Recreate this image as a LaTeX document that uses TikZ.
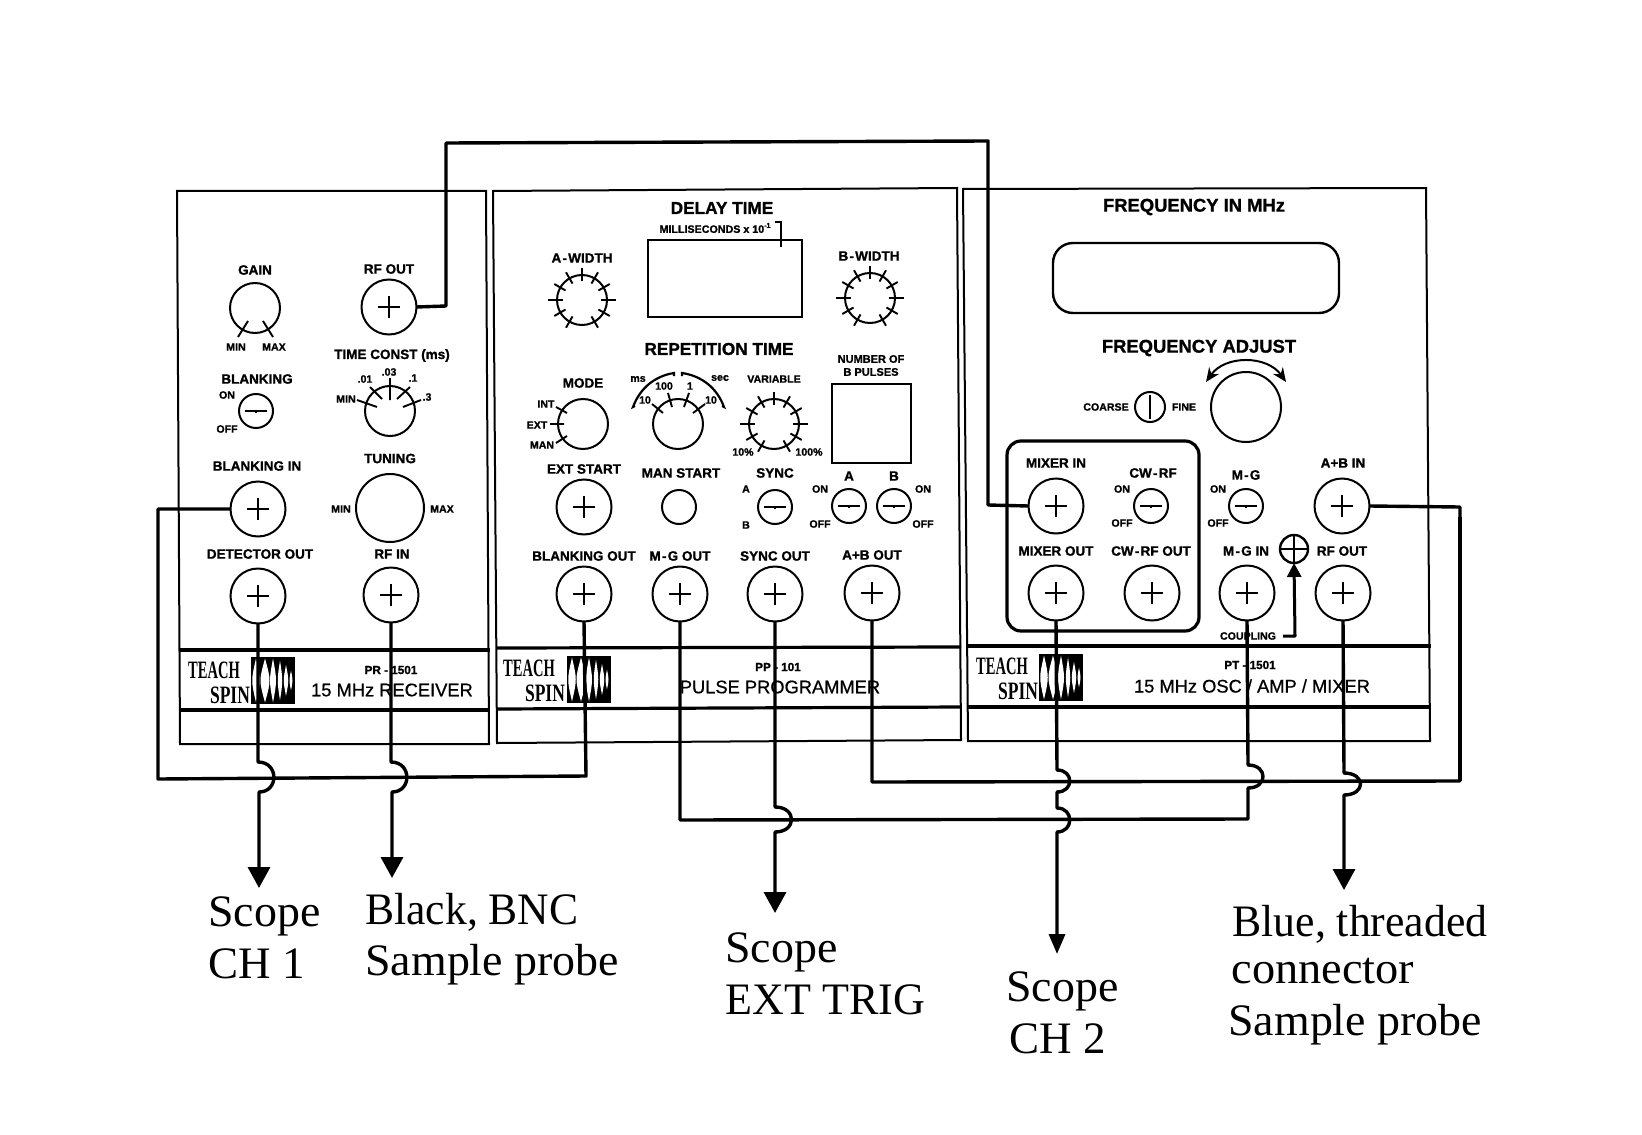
\documentclass[tikz,border=0pt]{standalone}
\usepackage{fontspec}
\setmainfont{Liberation Sans}[BoldFeatures={FakeBold=1.2}]
\newfontfamily\tmsfont{Liberation Serif}
\newfontfamily\medfont{Liberation Sans}[FakeBold=0.7]
\usetikzlibrary{arrows.meta}
\newcommand{\fsz}[1]{\fontsize{#1}{#1}\selectfont}
\newcommand{\hy}{\kern.6pt-\kern.6pt}
\newcommand{\lab}[5][lab]{\node[#1] (#2) at (#3,#4) {#5};}
\newcommand{\teachlogo}[5]{%
  \node[teach] (#1t) at (#2,#3) {\scalebox{.58}[1]{TEACH}};
  \node[teach] (#1s) at (#2+16,#3+25) {\scalebox{.7}[1]{SPIN}};
  \begin{scope}[shift={(#4,#5)}]
    \fill (0,0) rectangle (44,47);
    \foreach \c/\w/\h in {5/5/1,14/6/1,22/4/1,29/3/.9,35/3/.7,40/2/.45}{
      \fill[white] (\c,{23.5-22*\h}) .. controls (\c+\w,23.5) .. (\c,{23.5+22*\h}) .. controls (\c-\w,23.5) .. cycle;
    }
  \end{scope}}
\newcommand{\ticks}[1]{%
  \foreach \a in {30,60,120,150,210,240,270,300,330}{\draw[knobtick] (#1.center)+(\a:19)--+(\a:32);}
  \foreach \a in {0,180}{\draw[knobtick] (#1.center)+(\a:19)--+(\a:34);}}
\tikzset{
  panel/.style={line width=1pt},
  band/.style={line width=1.6pt},
  wire/.style={line width=1.7pt,line join=round},
  knobtick/.style={line width=.95pt},
  lab/.style={inner sep=0pt,font=\bfseries\fsz{6.75}},
  tinylab/.style={inner sep=0pt,font=\bfseries\fsz{5.3}},
  biglab/.style={inner sep=0pt,font=\bfseries\fsz{8.6}},
  hugelab/.style={inner sep=0pt,font=\bfseries\fsz{9.2}},
  modellab/.style={inner sep=0pt,font=\bfseries\fsz{5.85}},
  namelab/.style={inner sep=0pt,font=\medfont\fsz{9.15}},
  teach/.style={inner sep=0pt,font=\tmsfont\bfseries\fsz{12.5}},
  note/.style={inner sep=0pt,anchor=base west,font=\tmsfont\fsz{22.5}},
  jack/.style={circle,draw,line width=1pt,minimum size=27.5pt,inner sep=0pt,outer sep=0pt,
    path picture={\draw[line width=.95pt] (path picture bounding box.center) +(-11,0) -- +(11,0) +(0,-11) -- +(0,11);}},
  knob/.style={circle,draw,line width=1pt,minimum size=25pt,inner sep=0pt,outer sep=0pt},
  toggle/.style={circle,draw,line width=1pt,minimum size=17pt,inner sep=0pt,outer sep=0pt,
    path picture={\draw[line width=.95pt] (path picture bounding box.center) +(-11,0) -- +(11,0) +(0,-1.5) -- +(0,1.5);}},
  sig/.style={wire,-{Triangle[length=10.5pt,width=11pt]}}
}
\begin{document}
\begin{tikzpicture}[x=.5pt,y=-.5pt]
\useasboundingbox (0,0) rectangle (1642,1134);
% panels
\draw[panel] (177,191) -- (486,191) -- (489,744) -- (180,744) -- cycle;
\draw[band] (180,650) -- (490,650);
\draw[band] (180,710) -- (490,710);
\draw[panel] (493,191) -- (957,188) -- (961,740) -- (497,743) -- cycle;
\draw[band] (497,648) -- (961,647);
\draw[band] (497,709) -- (961,707);
\draw[panel] (963,189) -- (1426,188) -- (1430,741) -- (968,741) -- cycle;
\draw[band] (968,646) -- (1431,646);
\draw[band] (968,707) -- (1431,707);
% receiver
\lab{gainL}{255}{270}{GAIN}
\lab{rfoutL}{389}{269}{RF OUT}
\node[knob] (gain) at (255,308) {};
\draw[knobtick] (238,337) -- (248,321) (263,321) -- (273,337);
\lab[tinylab]{minA}{236}{347}{MIN}
\lab[tinylab]{maxA}{274}{347}{MAX}
\node[jack] (rfoutR) at (389,307) {};
\lab{tcL}{392}{355.5}{TIME CONST (ms)}
\lab{blkL}{257}{379}{BLANKING}
\lab[tinylab]{onR}{227}{395}{ON}
\lab[tinylab]{offR}{227}{429}{OFF}
\node[toggle] (blkT) at (256,411) {};
\node[knob] (tc) at (390,411) {};
\draw[knobtick] (357,400) -- (377,407) (370,387) -- (382,399) (390,378) -- (390,400) (410,387) -- (397,399) (421,400) -- (403,407);
\lab[tinylab]{tcmin}{346}{399}{MIN}
\lab[tinylab]{tca}{365}{379}{.01}
\lab[tinylab]{tcb}{389}{372}{.03}
\lab[tinylab]{tcc}{413}{378}{.1}
\lab[tinylab]{tcd}{427}{397}{.3}
\lab{tunL}{390}{458.5}{TUNING}
\lab{blkinL}{257}{466}{BLANKING IN}
\node[jack] (blkin) at (258,509) {};
\node[knob,minimum size=34pt] (tuning) at (390,508) {};
\lab[tinylab]{tunmin}{341}{509}{MIN}
\lab[tinylab]{tunmax}{442}{509}{MAX}
\lab{detL}{260}{554}{DETECTOR OUT}
\lab{rfinL}{392}{554}{RF IN}
\node[jack] (det) at (258,596) {};
\node[jack] (rfin) at (391,595) {};
\teachlogo{r}{214}{670}{251}{657}
\lab[modellab]{prm}{391}{670}{PR - 1501}
\lab[namelab]{prn}{392}{690}{15 MHz RECEIVER}
% programmer
\lab[biglab]{delayL}{722}{208}{DELAY TIME}
\node[inner sep=0pt,font=\bfseries\fsz{5.35}] (msL) at (715,228) {MILLISECONDS x 10\raisebox{2.5pt}{\fsz{3.5}-1}};
\node[draw,line width=1pt,minimum width=77pt,minimum height=38.5pt,inner sep=0pt,outer sep=0pt] (delayBox) at (725,278.5) {};
\draw[knobtick] (775,222) -- (781,222) -- (781,247);
\lab{awL}{582}{258}{A\hy WIDTH}
\node[knob] (aw) at (582,300) {}; \ticks{aw}
\lab{bwL}{869}{256}{B\hy WIDTH}
\node[knob] (bw) at (870,298) {}; \ticks{bw}
\lab[biglab]{repL}{719}{349}{REPETITION TIME}
\lab{modeL}{583}{383}{MODE}
\node[knob] (mode) at (583,424) {};
\draw[knobtick] (550,424) -- (564,424) (556,407) -- (567,413) (556,443) -- (567,436);
\lab[tinylab]{intL}{546}{404}{INT}
\lab[tinylab]{extL}{537}{425}{EXT}
\lab[tinylab]{manL}{542}{445}{MAN}
\node[knob] (rep) at (678,424) {};
\draw[knobtick] (652,404) -- (663,413) (668,393) -- (672,407) (689,393) -- (684,407) (705,404) -- (693,413);
\draw[line width=1.1pt] (635,406) -- (633,407) .. controls (640,388) and (655,376) .. (674,373) -- (674,376);
\draw[line width=1.1pt] (722,406) -- (724,407) .. controls (717,388) and (702,376) .. (682,373) -- (682,376);
\lab[tinylab]{msU}{638}{379}{ms}
\lab[tinylab]{secU}{720}{378}{sec}
\lab[tinylab]{r10a}{645}{400}{10}
\lab[tinylab]{r100}{664}{386}{100}
\lab[tinylab]{r1}{690}{386}{1}
\lab[tinylab]{r10b}{711}{400}{10}
\lab[tinylab]{varL}{774}{379}{VARIABLE}
\node[knob] (var) at (774,424) {}; \ticks{var}
\lab[tinylab]{v10}{743}{452}{10\%}
\lab[tinylab]{v100}{809}{452}{100\%}
\node[inner sep=0pt,font=\bfseries\fsz{5.5}] (numL) at (871,359) {NUMBER OF};
\node[inner sep=0pt,font=\bfseries\fsz{5.5}] (bpL) at (871,372) {B PULSES};
\node[draw,line width=1pt,minimum width=39.5pt,minimum height=39.5pt,inner sep=0pt,outer sep=0pt] (pulseBox) at (871.5,423.5) {};
\lab{extsL}{584}{469}{EXT START}
\node[jack] (exts) at (584,507) {};
\lab{mansL}{681}{473}{MAN START}
\node[knob,minimum size=17pt] (mans) at (679,507) {};
\lab{syncL}{775}{473}{SYNC}
\node[toggle] (syncT) at (775,507) {};
\lab[tinylab]{syncA}{746}{489}{A}
\lab[tinylab]{syncB}{746}{525}{B}
\lab[tinylab]{onP}{820}{489}{ON}
\lab[tinylab]{offP}{820}{524}{OFF}
\lab{aL}{849}{476}{A}
\node[toggle] (aT) at (849,506) {};
\lab{bL}{894}{476}{B}
\node[toggle] (bT) at (894,506) {};
\lab[tinylab]{onQ}{923}{489}{ON}
\lab[tinylab]{offQ}{923}{524}{OFF}
\lab{boL}{584}{556}{BLANKING OUT}
\lab{mgoL}{680}{556}{M\hy G OUT}
\lab{soL}{775}{556}{SYNC OUT}
\lab{abL}{872}{555}{A+B OUT}
\node[jack] (blkout) at (584,594) {};
\node[jack] (mgout) at (680,594) {};
\node[jack] (syncout) at (775,594) {};
\node[jack] (about) at (872,593) {};
\teachlogo{p}{529}{668}{567}{656}
\lab[modellab]{ppm}{778}{667}{PP - 101}
\lab[namelab]{ppn}{780}{687}{PULSE PROGRAMMER}
% oscillator
\lab[hugelab]{fqL}{1194}{207}{FREQUENCY IN MHz}
\node[draw,line width=1.2pt,rounded corners=10pt,minimum width=143pt,minimum height=35pt,inner sep=0pt,outer sep=0pt] (display) at (1196,278) {};
\lab[hugelab]{faL}{1199}{348}{FREQUENCY ADJUST}
\node[knob,minimum size=35pt] (fadj) at (1246,407) {};
\draw[line width=1pt,{Stealth[length=7pt,width=6pt]}-{Stealth[length=7pt,width=6pt]}] (1206,382) .. controls (1225,355) and (1267,355) .. (1286,382);
\lab[tinylab]{coarse}{1106}{407}{COARSE}
\node[knob,minimum size=15pt] (cf) at (1150,407) {};
\draw[knobtick] (cf.center) +(0,-12) -- +(0,12);
\lab[tinylab]{fine}{1184}{407}{FINE}
\draw[line width=1.6pt,rounded corners=7pt] (1007,441) rectangle (1199,631);
\lab{miL}{1056}{463}{MIXER IN}
\lab{cwL}{1153}{473}{CW\hy RF}
\node[jack] (mixin) at (1056,506) {};
\node[toggle] (cwT) at (1151,506) {};
\lab[tinylab]{onC}{1122}{489}{ON}
\lab[tinylab]{offC}{1122}{523}{OFF}
\lab{moL}{1056}{551}{MIXER OUT}
\lab{coL}{1151}{551}{CW\hy RF OUT}
\node[jack] (mixout) at (1056,593) {};
\node[jack] (cwout) at (1152,593) {};
\lab{mgL}{1246}{475}{M\hy G}
\node[toggle] (mgT) at (1246,506) {};
\lab[tinylab]{onM}{1218}{489}{ON}
\lab[tinylab]{offM}{1218}{523}{OFF}
\lab{abiL}{1343}{463}{A+B IN}
\node[jack] (abin) at (1342,506) {};
\lab{mgiL}{1246}{551}{M\hy G IN}
\node[jack] (mgin) at (1247,593) {};
\lab{rfoL}{1342}{551}{RF OUT}
\node[jack] (rfoutO) at (1343,593) {};
\node[circle,draw,line width=1.2pt,minimum size=14pt,inner sep=0pt,outer sep=0pt,path picture={\draw[line width=.95pt] (path picture bounding box.center) +(-14,0) -- +(14,0) +(0,-14) -- +(0,14);}] (coupC) at (1294,549) {};
\lab[tinylab]{coupL}{1248}{636}{COUPLING}
\coordinate (coupS) at (1283,636);
\draw[line width=1.5pt,line join=round,-{Triangle[length=7pt,width=7pt]}] (coupS) -- (1295,636) -- (coupC.south);
\teachlogo{o}{1002}{666}{1039}{654}
\lab[modellab]{ptm}{1250}{665}{PT - 1501}
\lab[namelab]{ptn}{1252}{686}{15 MHz OSC / AMP / MIXER}
% notes
\node[note] (n1) at (208,926) {\scalebox{1.02}[1]{Scope}};
\node[note] (n2) at (208,978) {CH 1};
\node[note] (n3) at (365,924) {\scalebox{.968}[1]{Black, BNC}};
\node[note] (n4) at (365,975) {\scalebox{1.02}[1]{Sample probe}};
\node[note] (n5) at (725,962) {\scalebox{1.02}[1]{Scope}};
\node[note] (n6) at (725,1014) {\scalebox{.98}[1]{EXT TRIG}};
\node[note] (n7) at (1006,1001) {\scalebox{1.02}[1]{Scope}};
\node[note] (n8) at (1009,1053) {CH 2};
\node[note] (n9) at (1232,936) {\scalebox{.972}[1]{Blue, threaded}};
\node[note] (n10) at (1231,983) {\scalebox{1.03}[1]{connector}};
\node[note] (n11) at (1228,1035) {\scalebox{1.02}[1]{Sample probe}};
% free wire ends
\coordinate (ch1) at (259,888);
\coordinate (probeB) at (392,878);
\coordinate (trig) at (775,913);
\coordinate (ch2) at (1057,954);
\coordinate (probeT) at (1344,890);
% wires
\draw[wire] (rfoutR.east) -- (446,306) -- (446,143) -- (988,141) -- (988,505) -- (mixin.west);
\draw[wire] (blkin.west) -- (158,509) -- (158,779) -- (586,776) -- (blkout.south);
\draw[wire] (about.south) -- (872,782) -- (1460,781) -- (1460,507) -- (abin.east);
\draw[line width=2.3pt] (1460,517) -- (1460,781);
\draw[wire] (mgout.south) -- (680,820) -- (1248,819) -- (1248,788) .. controls (1268,788) and (1268,765) .. (1248,765) -- (mgin.south);
\draw[sig] (det.south) -- (258,762) .. controls (279,762) and (279,792) .. (259,792) -- (ch1);
\draw[sig] (rfin.south) -- (391,762) .. controls (412,762) and (412,792) .. (392,792) -- (probeB);
\draw[sig] (syncout.south) -- (775,807) .. controls (797,807) and (797,832) .. (775,832) -- (trig);
\draw[wire,-{Triangle[length=10pt,width=8pt]}] (mixout.south) -- (1057,770) .. controls (1074,770) and (1074,792) .. (1057,792) -- (1057,808) .. controls (1074,808) and (1074,832) .. (1057,832) -- (ch2);
\draw[sig] (rfoutO.south) -- (1344,773) .. controls (1366,773) and (1366,795) .. (1344,795) -- (probeT);
\end{tikzpicture}
\end{document}
